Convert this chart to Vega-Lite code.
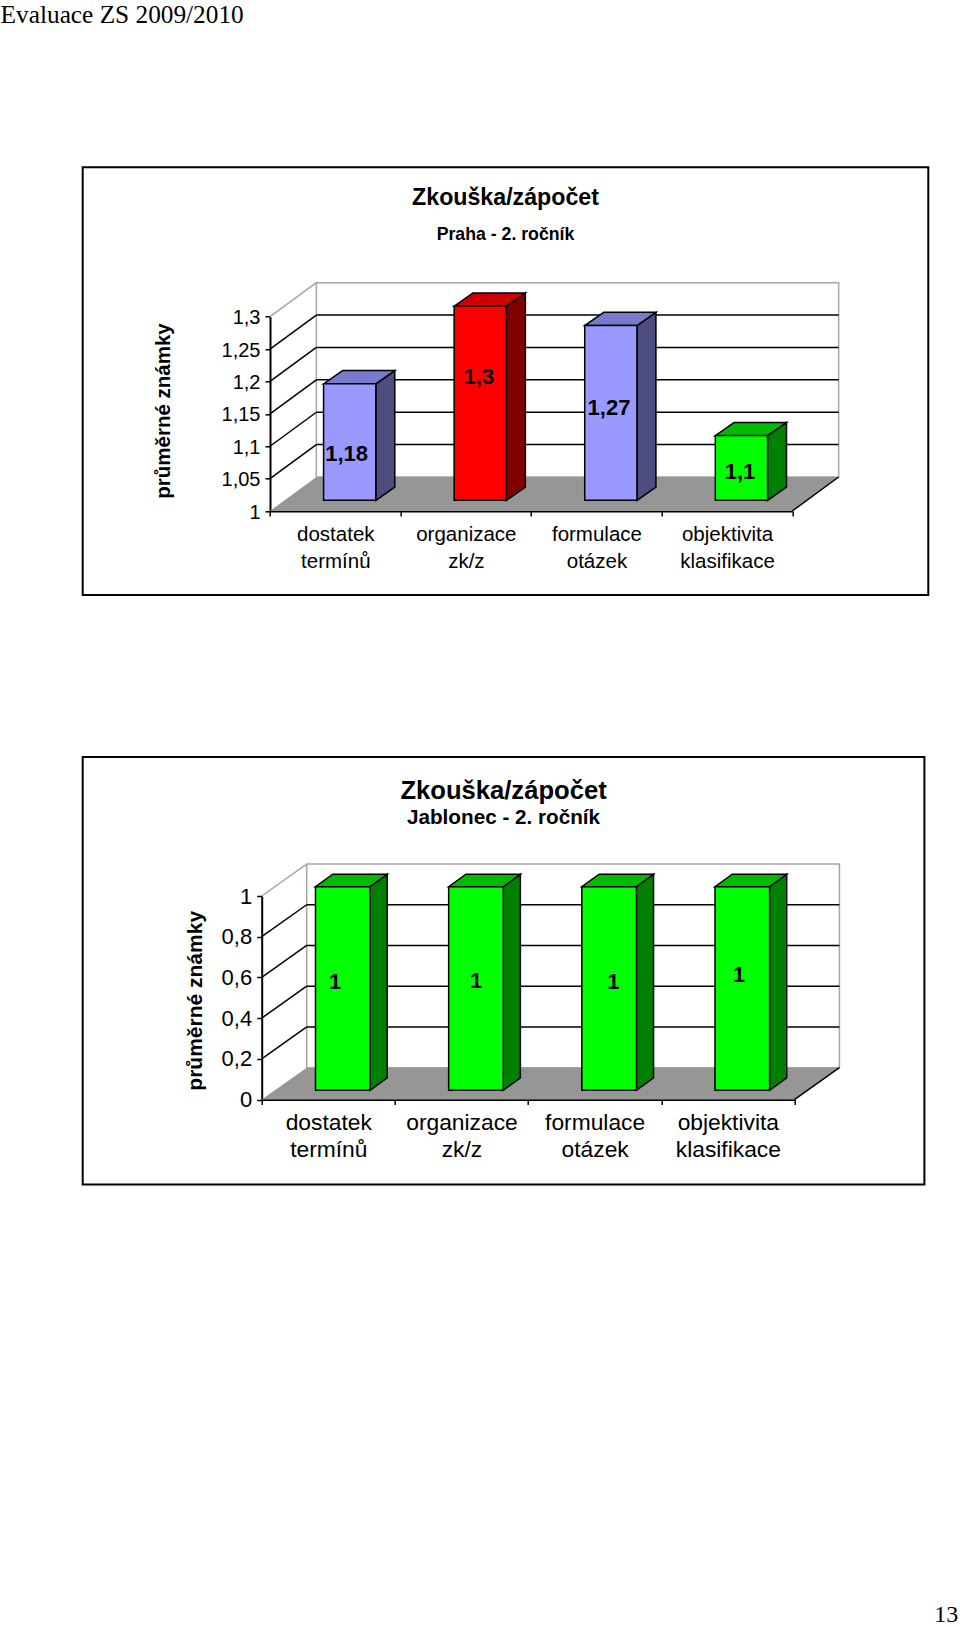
{"$schema":"https://vega.github.io/schema/vega-lite/v6.json","autosize":{"type":"none"},"padding":{"left":82.7,"top":167.3,"right":877.3,"bottom":1459.7},"background":"white","spacing":161.7,"bounds":"flush","config":{"view":{"stroke":"black","strokeWidth":2,"fill":"white"},"font":"Liberation Sans"},"datasets":{"praha":[{"kategorie":"dostatek termínů","hodnota":1.18,"barva":"modrá"},{"kategorie":"organizace zk/z","hodnota":1.3,"barva":"červená"},{"kategorie":"formulace otázek","hodnota":1.27,"barva":"modrá"},{"kategorie":"objektivita klasifikace","hodnota":1.1,"barva":"zelená"}],"jablonec":[{"kategorie":"dostatek termínů","hodnota":1,"barva":"zelená"},{"kategorie":"organizace zk/z","hodnota":1,"barva":"zelená"},{"kategorie":"formulace otázek","hodnota":1,"barva":"zelená"},{"kategorie":"objektivita klasifikace","hodnota":1,"barva":"zelená"}]},"vconcat":[{"width":845.6,"height":427.7,"title":{"text":"Zkouška/zápočet","subtitle":"Praha - 2. ročník","anchor":"middle","frame":"group","offset":-241.8,"font":"Liberation Sans","fontSize":23.2,"fontWeight":"bold","subtitleFont":"Liberation Sans","subtitleFontSize":17.7,"subtitleFontWeight":"bold","subtitleColor":"black","subtitlePadding":16,"color":"black"},"resolve":{"scale":{"x":"independent","fill":"independent"}},"layer":[{"data":{"values":[{}]},"mark":{"type":"rect","fillOpacity":0,"stroke":"#a6a6a6","strokeWidth":1.5},"encoding":{"x":{"datum":0.355,"type":"quantitative","scale":{"domain":[0,4],"range":[187.3,709.6],"nice":false,"zero":false},"axis":null},"x2":{"datum":4.355},"y":{"datum":1.3525,"type":"quantitative","scale":{"domain":[1,1.3],"range":[343.7,149.4],"nice":false,"zero":false},"axis":{"values":[1,1.05,1.1,1.15,1.2,1.25,1.3],"labelExpr":"replace(''+datum.value,'.',',')","offset":-187.3,"domainColor":"black","domainWidth":2,"tickColor":"black","tickWidth":1.5,"tickSize":5,"labelPadding":5,"labelOffset":1,"labelFontSize":20,"labelColor":"black","labelFont":"Liberation Sans","grid":false,"title":"průměrné známky","titleFont":"Liberation Sans","titleFontSize":20.5,"titleFontWeight":"bold","titleColor":"black","titleAngle":-90,"titleAlign":"center","titleBaseline":"middle","titleX":-107,"titleY":243.2}},"y2":{"datum":1.0525}}},{"data":{"values":[{"hloubka":0},{"hloubka":1}]},"transform":[{"calculate":"1+datum.hloubka*0.0525","as":"ys"},{"calculate":"datum.hloubka*0.355","as":"xa"},{"calculate":"4+datum.hloubka*0.355","as":"xb"}],"mark":{"type":"area","orient":"horizontal","fill":"#969696"},"encoding":{"y":{"field":"ys","type":"quantitative","scale":{"domain":[1,1.3],"range":[343.7,149.4],"nice":false,"zero":false}},"x":{"field":"xa","type":"quantitative","scale":{"domain":[0,4],"range":[187.3,709.6],"nice":false,"zero":false},"axis":null},"x2":{"field":"xb"}}},{"data":{"values":[{"znamka":1.05},{"znamka":1.1},{"znamka":1.15},{"znamka":1.2},{"znamka":1.25}]},"transform":[{"calculate":"datum.znamka+0.0525","as":"zadni"}],"mark":{"type":"rule","stroke":"black","strokeWidth":1.5},"encoding":{"x":{"datum":0,"type":"quantitative","scale":{"domain":[0,4],"range":[187.3,709.6],"nice":false,"zero":false},"axis":null},"x2":{"datum":0.355},"y":{"field":"znamka","type":"quantitative","scale":{"domain":[1,1.3],"range":[343.7,149.4],"nice":false,"zero":false}},"y2":{"field":"zadni"}}},{"data":{"values":[{"znamka":1.05},{"znamka":1.1},{"znamka":1.15},{"znamka":1.2},{"znamka":1.25}]},"transform":[{"calculate":"datum.znamka+0.0525","as":"zadni"}],"mark":{"type":"rule","stroke":"black","strokeWidth":1.5},"encoding":{"x":{"datum":0.355,"type":"quantitative","scale":{"domain":[0,4],"range":[187.3,709.6],"nice":false,"zero":false},"axis":null},"x2":{"datum":4.355},"y":{"field":"zadni","type":"quantitative","scale":{"domain":[1,1.3],"range":[343.7,149.4],"nice":false,"zero":false}}}},{"data":{"values":[{"znamka":1.3}]},"transform":[{"calculate":"datum.znamka+0.0525","as":"zadni"}],"mark":{"type":"rule","stroke":"#a6a6a6","strokeWidth":1.5},"encoding":{"x":{"datum":0,"type":"quantitative","scale":{"domain":[0,4],"range":[187.3,709.6],"nice":false,"zero":false},"axis":null},"x2":{"datum":0.355},"y":{"field":"znamka","type":"quantitative","scale":{"domain":[1,1.3],"range":[343.7,149.4],"nice":false,"zero":false}},"y2":{"field":"zadni"}}},{"data":{"values":[{"znamka":1}]},"transform":[{"calculate":"datum.znamka+0.0525","as":"zadni"}],"mark":{"type":"rule","stroke":"black","strokeWidth":1.5},"encoding":{"x":{"datum":4,"type":"quantitative","scale":{"domain":[0,4],"range":[187.3,709.6],"nice":false,"zero":false},"axis":null},"x2":{"datum":4.355},"y":{"field":"znamka","type":"quantitative","scale":{"domain":[1,1.3],"range":[343.7,149.4],"nice":false,"zero":false}},"y2":{"field":"zadni"}}},{"data":{"name":"praha"},"transform":[{"window":[{"op":"row_number","as":"rn"}]},{"calculate":"[0,1]","as":"t"},{"flatten":["t"]},{"calculate":"datum.rn-1+0.7+(0.31+0.41*datum.t)*0.355","as":"xs"},{"calculate":"datum.hodnota+(0.31+0.39*datum.t)*0.0525","as":"ys"},{"calculate":"1+(0.31+0.39*datum.t)*0.0525","as":"ys2"}],"mark":{"type":"area","stroke":"black","strokeWidth":1.5},"encoding":{"x":{"field":"xs","type":"quantitative","scale":{"domain":[0,4],"range":[187.3,709.6],"nice":false,"zero":false},"axis":null},"y":{"field":"ys","type":"quantitative","scale":{"domain":[1,1.3],"range":[343.7,149.4],"nice":false,"zero":false}},"y2":{"field":"ys2"},"detail":{"field":"kategorie"},"fill":{"field":"barva","type":"nominal","scale":{"domain":["modrá","červená","zelená"],"range":["#4d4d80","#800000","#008000"]},"legend":null}}},{"data":{"name":"praha"},"transform":[{"window":[{"op":"row_number","as":"rn"}]},{"calculate":"[0,1]","as":"t"},{"flatten":["t"]},{"calculate":"datum.rn-1+0.3+(0.31+0.41*datum.t)*0.355","as":"xa"},{"calculate":"datum.rn-1+0.7+(0.31+0.41*datum.t)*0.355","as":"xb"},{"calculate":"datum.hodnota+(0.31+0.39*datum.t)*0.0525","as":"ys"}],"mark":{"type":"area","orient":"horizontal","stroke":"black","strokeWidth":1.5},"encoding":{"y":{"field":"ys","type":"quantitative","scale":{"domain":[1,1.3],"range":[343.7,149.4],"nice":false,"zero":false}},"x":{"field":"xa","type":"quantitative","scale":{"domain":[0,4],"range":[187.3,709.6],"nice":false,"zero":false},"axis":null},"x2":{"field":"xb"},"detail":{"field":"kategorie"},"fill":{"field":"barva","type":"nominal","scale":{"domain":["modrá","červená","zelená"],"range":["#7a7acc","#cc0000","#00bb00"]},"legend":null}}},{"data":{"name":"praha"},"mark":{"type":"bar","width":{"band":0.4},"xOffset":14.4,"yOffset":-10.7,"y2Offset":-10.7,"stroke":"black","strokeWidth":1.5},"encoding":{"x":{"field":"kategorie","type":"nominal","sort":null,"scale":{"range":[187.3,709.6],"paddingInner":0,"paddingOuter":0},"axis":{"title":null,"offset":-84,"domainColor":"black","domainWidth":2,"tickColor":"black","tickWidth":1.5,"tickSize":5,"tickBand":"extent","labelAngle":0,"labelPadding":8,"labelFontSize":20.5,"labelColor":"black","labelFont":"Liberation Sans","labelLineHeight":27.5,"labelExpr":"split(datum.label,' ')","labelAlign":"center","labelBaseline":"top"}},"y":{"field":"hodnota","type":"quantitative","scale":{"domain":[1,1.3],"range":[343.7,149.4],"nice":false,"zero":false}},"y2":{"datum":1},"fill":{"field":"barva","type":"nominal","scale":{"domain":["modrá","červená","zelená"],"range":["#9999ff","#ff0000","#00ff00"]},"legend":null}}},{"data":{"name":"praha"},"transform":[{"window":[{"op":"row_number","as":"rn"}]},{"calculate":"datum.rn-1+[0.587,0.6,0.596,0.599][datum.rn-1]","as":"lx"},{"calculate":"[1.088,1.207,1.159,1.06][datum.rn-1]","as":"ly"},{"calculate":"replace(''+datum.hodnota,'.',',')","as":"popisek"}],"mark":{"type":"text","fontSize":22,"fontWeight":"bold","font":"Liberation Sans","color":"black","align":"center","baseline":"middle"},"encoding":{"x":{"field":"lx","type":"quantitative","scale":{"domain":[0,4],"range":[187.3,709.6],"nice":false,"zero":false},"axis":null},"y":{"field":"ly","type":"quantitative","scale":{"domain":[1,1.3],"range":[343.7,149.4],"nice":false,"zero":false}},"text":{"field":"popisek","type":"nominal"}}},{"data":{"values":[{"text":"Evaluace ZS 2009/2010"}]},"mark":{"type":"text","font":"Liberation Serif","fontSize":25.3,"align":"left","baseline":"alphabetic","color":"black"},"encoding":{"x":{"datum":-2.063,"type":"quantitative","scale":{"domain":[0,4],"range":[187.3,709.6],"nice":false,"zero":false},"axis":null},"y":{"datum":1.7534,"type":"quantitative","scale":{"domain":[1,1.3],"range":[343.7,149.4],"nice":false,"zero":false}},"text":{"field":"text","type":"nominal"}}}]},{"width":841.7,"height":427.6,"title":{"text":"Zkouška/zápočet","subtitle":"Jablonec - 2. ročník","anchor":"middle","frame":"group","offset":-71,"font":"Liberation Sans","fontSize":25.6,"fontWeight":"bold","subtitleFont":"Liberation Sans","subtitleFontSize":20.7,"subtitleFontWeight":"bold","subtitleColor":"black","subtitlePadding":4,"color":"black"},"resolve":{"scale":{"x":"independent","fill":"independent"}},"layer":[{"data":{"values":[{}]},"mark":{"type":"rect","fillOpacity":0,"stroke":"#a6a6a6","strokeWidth":1.5},"encoding":{"x":{"datum":0.338,"type":"quantitative","scale":{"domain":[0,4],"range":[179,711.7],"nice":false,"zero":false},"axis":null},"x2":{"datum":4.338},"y":{"datum":1.157,"type":"quantitative","scale":{"domain":[0,1],"range":[342.6,139],"nice":false,"zero":false},"axis":{"values":[0,0.2,0.4,0.6,0.8,1],"labelExpr":"replace(''+datum.value,'.',',')","offset":-179,"domainColor":"black","domainWidth":2,"tickColor":"black","tickWidth":1.5,"tickSize":5,"labelPadding":5,"labelFontSize":22,"labelColor":"black","labelFont":"Liberation Sans","grid":false,"title":"průměrné známky","titleFont":"Liberation Sans","titleFontSize":21,"titleFontWeight":"bold","titleColor":"black","titleAngle":-90,"titleAlign":"center","titleBaseline":"middle","titleX":-66.3,"titleY":243.3}},"y2":{"datum":0.157}}},{"data":{"values":[{"hloubka":0},{"hloubka":1}]},"transform":[{"calculate":"datum.hloubka*0.157","as":"ys"},{"calculate":"datum.hloubka*0.338","as":"xa"},{"calculate":"4+datum.hloubka*0.338","as":"xb"}],"mark":{"type":"area","orient":"horizontal","fill":"#969696"},"encoding":{"y":{"field":"ys","type":"quantitative","scale":{"domain":[0,1],"range":[342.6,139],"nice":false,"zero":false}},"x":{"field":"xa","type":"quantitative","scale":{"domain":[0,4],"range":[179,711.7],"nice":false,"zero":false},"axis":null},"x2":{"field":"xb"}}},{"data":{"values":[{"znamka":0.2},{"znamka":0.4},{"znamka":0.6},{"znamka":0.8}]},"transform":[{"calculate":"datum.znamka+0.157","as":"zadni"}],"mark":{"type":"rule","stroke":"black","strokeWidth":1.5},"encoding":{"x":{"datum":0,"type":"quantitative","scale":{"domain":[0,4],"range":[179,711.7],"nice":false,"zero":false},"axis":null},"x2":{"datum":0.338},"y":{"field":"znamka","type":"quantitative","scale":{"domain":[0,1],"range":[342.6,139],"nice":false,"zero":false}},"y2":{"field":"zadni"}}},{"data":{"values":[{"znamka":0.2},{"znamka":0.4},{"znamka":0.6},{"znamka":0.8}]},"transform":[{"calculate":"datum.znamka+0.157","as":"zadni"}],"mark":{"type":"rule","stroke":"black","strokeWidth":1.5},"encoding":{"x":{"datum":0.338,"type":"quantitative","scale":{"domain":[0,4],"range":[179,711.7],"nice":false,"zero":false},"axis":null},"x2":{"datum":4.338},"y":{"field":"zadni","type":"quantitative","scale":{"domain":[0,1],"range":[342.6,139],"nice":false,"zero":false}}}},{"data":{"values":[{"znamka":1}]},"transform":[{"calculate":"datum.znamka+0.157","as":"zadni"}],"mark":{"type":"rule","stroke":"#a6a6a6","strokeWidth":1.5},"encoding":{"x":{"datum":0,"type":"quantitative","scale":{"domain":[0,4],"range":[179,711.7],"nice":false,"zero":false},"axis":null},"x2":{"datum":0.338},"y":{"field":"znamka","type":"quantitative","scale":{"domain":[0,1],"range":[342.6,139],"nice":false,"zero":false}},"y2":{"field":"zadni"}}},{"data":{"values":[{"znamka":0}]},"transform":[{"calculate":"datum.znamka+0.157","as":"zadni"}],"mark":{"type":"rule","stroke":"black","strokeWidth":1.5},"encoding":{"x":{"datum":4,"type":"quantitative","scale":{"domain":[0,4],"range":[179,711.7],"nice":false,"zero":false},"axis":null},"x2":{"datum":4.338},"y":{"field":"znamka","type":"quantitative","scale":{"domain":[0,1],"range":[342.6,139],"nice":false,"zero":false}},"y2":{"field":"zadni"}}},{"data":{"name":"jablonec"},"transform":[{"window":[{"op":"row_number","as":"rn"}]},{"calculate":"[0,1]","as":"t"},{"flatten":["t"]},{"calculate":"datum.rn-1+0.7125+(0.3+0.38*datum.t)*0.338","as":"xs"},{"calculate":"datum.hodnota+(0.29+0.39*datum.t)*0.157","as":"ys"},{"calculate":"(0.29+0.39*datum.t)*0.157","as":"ys2"}],"mark":{"type":"area","stroke":"black","strokeWidth":1.5},"encoding":{"x":{"field":"xs","type":"quantitative","scale":{"domain":[0,4],"range":[179,711.7],"nice":false,"zero":false},"axis":null},"y":{"field":"ys","type":"quantitative","scale":{"domain":[0,1],"range":[342.6,139],"nice":false,"zero":false}},"y2":{"field":"ys2"},"detail":{"field":"kategorie"},"fill":{"field":"barva","type":"nominal","scale":{"domain":["modrá","červená","zelená"],"range":["#4d4d80","#800000","#008000"]},"legend":null}}},{"data":{"name":"jablonec"},"transform":[{"window":[{"op":"row_number","as":"rn"}]},{"calculate":"[0,1]","as":"t"},{"flatten":["t"]},{"calculate":"datum.rn-1+0.3025+(0.3+0.38*datum.t)*0.338","as":"xa"},{"calculate":"datum.rn-1+0.7125+(0.3+0.38*datum.t)*0.338","as":"xb"},{"calculate":"datum.hodnota+(0.29+0.39*datum.t)*0.157","as":"ys"}],"mark":{"type":"area","orient":"horizontal","stroke":"black","strokeWidth":1.5},"encoding":{"y":{"field":"ys","type":"quantitative","scale":{"domain":[0,1],"range":[342.6,139],"nice":false,"zero":false}},"x":{"field":"xa","type":"quantitative","scale":{"domain":[0,4],"range":[179,711.7],"nice":false,"zero":false},"axis":null},"x2":{"field":"xb"},"detail":{"field":"kategorie"},"fill":{"field":"barva","type":"nominal","scale":{"domain":["modrá","červená","zelená"],"range":["#7a7acc","#cc0000","#00bb00"]},"legend":null}}},{"data":{"name":"jablonec"},"mark":{"type":"bar","width":{"band":0.41},"xOffset":14.5,"yOffset":-9.3,"y2Offset":-9.3,"stroke":"black","strokeWidth":1.5},"encoding":{"x":{"field":"kategorie","type":"nominal","sort":null,"scale":{"range":[179,711.7],"paddingInner":0,"paddingOuter":0},"axis":{"title":null,"offset":-85,"domainColor":"black","domainWidth":2,"tickColor":"black","tickWidth":1.5,"tickSize":5,"tickBand":"extent","labelAngle":0,"labelPadding":7,"labelFontSize":22.8,"labelColor":"black","labelFont":"Liberation Sans","labelLineHeight":26.7,"labelExpr":"split(datum.label,' ')","labelAlign":"center","labelBaseline":"top"}},"y":{"field":"hodnota","type":"quantitative","scale":{"domain":[0,1],"range":[342.6,139],"nice":false,"zero":false}},"y2":{"datum":0},"fill":{"field":"barva","type":"nominal","scale":{"domain":["modrá","červená","zelená"],"range":["#9999ff","#ff0000","#00ff00"]},"legend":null}}},{"data":{"name":"jablonec"},"transform":[{"window":[{"op":"row_number","as":"rn"}]},{"calculate":"datum.rn-1+[0.551,0.61,0.64,0.584][datum.rn-1]","as":"lx"},{"calculate":"[0.578,0.583,0.578,0.614][datum.rn-1]","as":"ly"},{"calculate":"replace(''+datum.hodnota,'.',',')","as":"popisek"}],"mark":{"type":"text","fontSize":22,"fontWeight":"bold","font":"Liberation Sans","color":"black","align":"center","baseline":"middle"},"encoding":{"x":{"field":"lx","type":"quantitative","scale":{"domain":[0,4],"range":[179,711.7],"nice":false,"zero":false},"axis":null},"y":{"field":"ly","type":"quantitative","scale":{"domain":[0,1],"range":[342.6,139],"nice":false,"zero":false}},"text":{"field":"popisek","type":"nominal"}}},{"data":{"values":[{"text":"13"}]},"mark":{"type":"text","font":"Liberation Serif","fontSize":24,"align":"right","baseline":"alphabetic","color":"black"},"encoding":{"x":{"datum":5.23,"type":"quantitative","scale":{"domain":[0,4],"range":[179,711.7],"nice":false,"zero":false},"axis":null},"y":{"datum":-2.565,"type":"quantitative","scale":{"domain":[0,1],"range":[342.6,139],"nice":false,"zero":false}},"text":{"field":"text","type":"nominal"}}}]}]}
